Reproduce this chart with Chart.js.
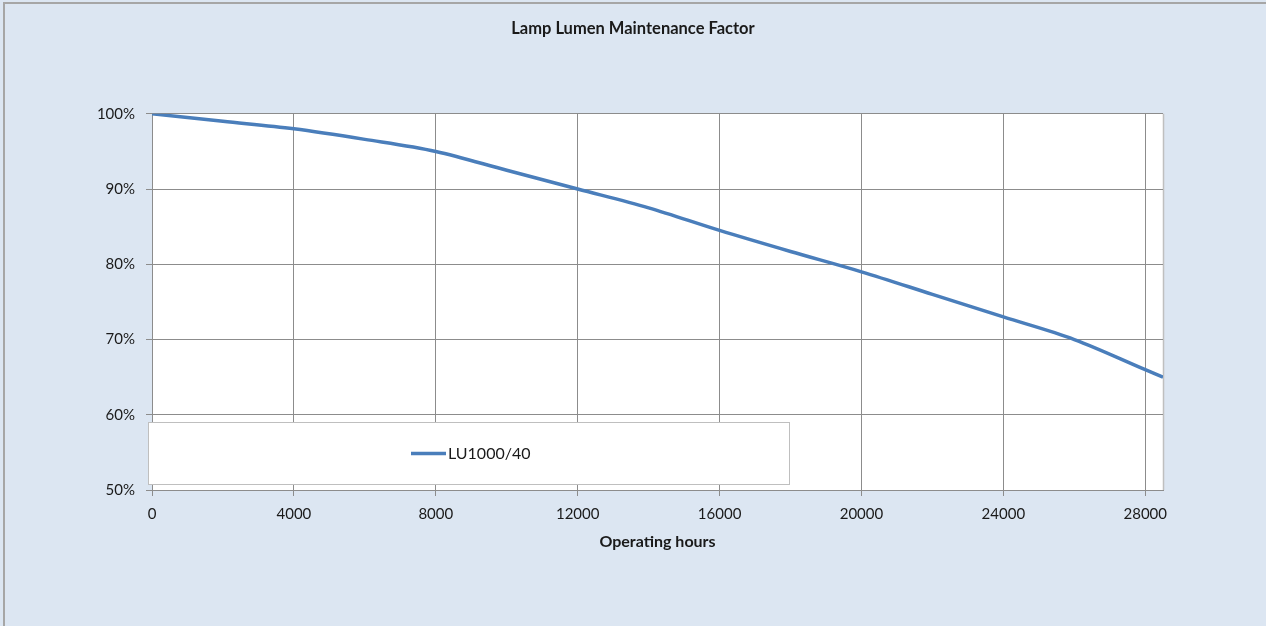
<!DOCTYPE html>
<html>
<head>
<meta charset="utf-8">
<script src="https://cdn.jsdelivr.net/npm/chart.js@4"></script>
<style>
  html, body { margin: 0; padding: 0; background: #dce6f2; overflow: hidden; }
  #wrap { position: absolute; left: 0; top: 0; width: 1266px; height: 626px; }
  #frame {
    position: absolute; left: 3px; top: 2px; width: 1300px; height: 700px;
    border-top: 2px solid #a6a6a6; border-left: 2px solid #a6a6a6;
    pointer-events: none;
  }
</style>
</head>
<body>
<div id="wrap"><canvas id="chart" width="1266" height="626"></canvas></div>
<div id="frame"></div>
<script>
// Data
const hours = [0, 2000, 4000, 6000, 8000, 10000, 12000, 14000, 16000, 18000, 20000, 22000, 24000, 26000, 28000, 28500];
const lumenFactor = [100, 99.0, 98.0, 96.6, 95.0, 92.5, 90.0, 87.5, 84.5, 81.7, 79.0, 76.0, 73.0, 70.0, 66.0, 65.0];
const xTickValues = [0, 4000, 8000, 12000, 16000, 20000, 24000, 28000];
const yTickValues = [50, 60, 70, 80, 90, 100];
const seriesName = "LU1000/40";
const chartTitle = "Lamp Lumen Maintenance Factor";
const xTitle = "Operating hours";

const FONT = "Lato, 'Open Sans', sans-serif";
const gridColor = "#8c8c8c";
const textColor = "#1a1a1a";

// white plot area + light right-hand border
const plotArea = {
  id: "plotArea",
  beforeDraw(chart) {
    const ctx = chart.ctx;
    const a = chart.chartArea;
    ctx.save();
    ctx.fillStyle = "#ffffff";
    ctx.fillRect(a.left, a.top, a.right - a.left, a.bottom - a.top);
    ctx.strokeStyle = "#bfbfbf";
    ctx.lineWidth = 1.5;
    ctx.beginPath();
    ctx.moveTo(a.right + 0.5, a.top);
    ctx.lineTo(a.right + 0.5, a.bottom);
    ctx.stroke();
    ctx.restore();
  }
};

// Legend box inside the plot, like the Excel original
const boxLegend = {
  id: "boxLegend",
  afterDraw(chart) {
    const ctx = chart.ctx;
    const a = chart.chartArea;
    const x = a.left - 4, y = 422.5, w = 641, h = 62;
    ctx.save();
    ctx.fillStyle = "#ffffff";
    ctx.fillRect(x, y, w, h);
    ctx.strokeStyle = "#bfbfbf";
    ctx.lineWidth = 1;
    ctx.strokeRect(x + 0.5, y, w, h);
    const ds = chart.data.datasets[0];
    ctx.strokeStyle = ds.borderColor;
    ctx.lineWidth = 3.5;
    ctx.beginPath();
    ctx.moveTo(411, 453.5);
    ctx.lineTo(446, 453.5);
    ctx.stroke();
    ctx.fillStyle = textColor;
    ctx.font = "16px " + FONT;
    ctx.textBaseline = "middle";
    ctx.fillText(ds.label, 448, 454);
    ctx.restore();
  }
};

new Chart(document.getElementById("chart"), {
  type: "line",
  data: {
    datasets: [{
      label: seriesName,
      data: hours.map((h, i) => ({ x: h, y: lumenFactor[i] })),
      borderColor: "#4a7ebb",
      borderWidth: 3.5,
      pointRadius: 0,
      tension: 0.4,
      cubicInterpolationMode: "monotone",
      fill: false
    }]
  },
  options: {
    responsive: false,
    animation: false,
    layout: { padding: 0 },
    plugins: {
      legend: { display: false },
      tooltip: { enabled: false },
      title: {
        display: true,
        text: chartTitle,
        color: textColor,
        font: { family: FONT, size: 16.5, weight: "bold", lineHeight: 1.2 },
        padding: { top: 19, bottom: 75 }
      }
    },
    scales: {
      x: {
        type: "linear",
        min: 0,
        max: 28500,
        afterBuildTicks: s => { s.ticks = xTickValues.map(v => ({ value: v })); },
        afterFit: s => { s.height = 136; },
        ticks: {
          color: textColor,
          font: { family: FONT, size: 15 },
          padding: 9,
          maxRotation: 0,
          autoSkip: false,
          callback: v => String(v)
        },
        grid: { color: gridColor, lineWidth: 1, tickLength: 6 },
        border: { color: gridColor, width: 1 },
        title: {
          display: true,
          text: xTitle,
          color: textColor,
          font: { family: FONT, size: 16, weight: "bold", lineHeight: 1.2 },
          padding: { top: 0, bottom: 75 }
        }
      },
      y: {
        min: 50,
        max: 100,
        afterBuildTicks: s => { s.ticks = yTickValues.map(v => ({ value: v })); },
        afterFit: s => { s.width = 152; },
        ticks: {
          color: textColor,
          font: { family: FONT, size: 15 },
          padding: 11,
          callback: v => v + "%"
        },
        grid: { color: gridColor, lineWidth: 1, tickLength: 6 },
        border: { color: gridColor, width: 1 }
      },
      // empty right axis, only reserves the margin right of the plot
      yRight: {
        position: "right",
        min: 50,
        max: 100,
        afterFit: s => { s.width = 103; },
        ticks: { display: false },
        grid: { display: false },
        border: { display: false }
      }
    }
  },
  plugins: [plotArea, boxLegend]
});
</script>
</body>
</html>
